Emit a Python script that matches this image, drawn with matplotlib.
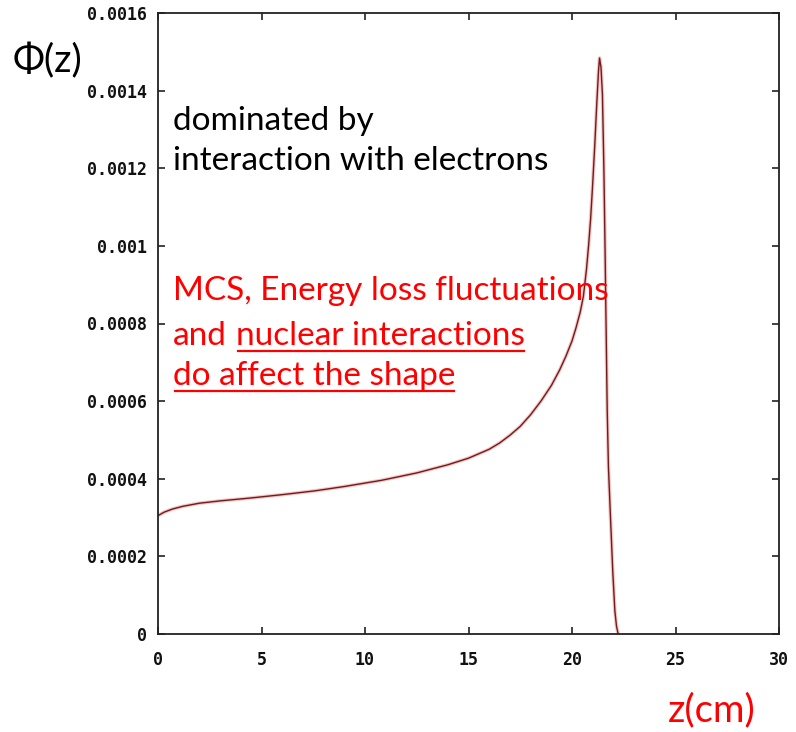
import matplotlib
matplotlib.use("Agg")
import matplotlib.pyplot as plt
from matplotlib.lines import Line2D

# Proton fluence-weighted depth profile Phi(z) along the beam axis
depth_cm = [0.0, 0.3, 0.7, 1.2, 2.0, 3.0, 4.4, 6.0, 7.6, 9.0, 10.8, 12.5,
            14.0, 15.0, 16.0, 16.5, 17.0, 17.5, 18.0, 18.5, 19.0, 19.4,
            19.7, 20.0, 20.2, 20.4, 20.55, 20.7, 20.8, 20.9, 21.0, 21.1,
            21.2, 21.28, 21.33, 21.40, 21.47, 21.54, 21.60, 21.65, 21.70,
            21.76, 21.86, 21.97, 22.07, 22.15, 22.23]
phi = [0.000305, 0.000314, 0.000322, 0.000329, 0.000337, 0.000343, 0.000350,
       0.000359, 0.000369, 0.000380, 0.000396, 0.000415, 0.000436, 0.000453,
       0.000476, 0.000492, 0.000512, 0.000535, 0.000565, 0.000600, 0.000640,
       0.000680, 0.000715, 0.000755, 0.000790, 0.000830, 0.000870, 0.000940,
       0.001000, 0.001070, 0.001160, 0.001260, 0.001370, 0.001450, 0.001484,
       0.001460, 0.001390, 0.001200, 0.000980, 0.000780, 0.000580, 0.000430,
       0.000300, 0.000160, 0.000060, 0.000020, 0.0]

x_ticks = [0, 5, 10, 15, 20, 25, 30]
x_tick_labels = ["0", "5", "10", "15", "20", "25", "30"]
y_ticks = [0, 0.0002, 0.0004, 0.0006, 0.0008, 0.001, 0.0012, 0.0014, 0.0016]
y_tick_labels = ["0", "0.0002", "0.0004", "0.0006", "0.0008", "0.001",
                 "0.0012", "0.0014", "0.0016"]

W, H = 796, 732
fig = plt.figure(figsize=(W / 100, H / 100), dpi=100)
fig.patch.set_facecolor("white")


def fx(px):
    return px / W


def fy(py):
    return 1 - py / H


ax = fig.add_axes([fx(158), fy(634), 621 / W, 621 / H])
ax.plot(depth_cm, phi, color="#f6c4c4", lw=2.6, solid_joinstyle="round")
ax.plot(depth_cm, phi, color="#6e1c1c", lw=1.0)
ax.set_xlim(0, 30)
ax.set_ylim(0, 0.0016)
ax.set_xticks(x_ticks, x_tick_labels)
ax.set_yticks(y_ticks, y_tick_labels)
ax.tick_params(direction="in", length=5, width=1.2, top=True, right=True,
               colors="#222222")
ax.tick_params(axis="x", pad=12)
ax.tick_params(axis="y", pad=8)
for lab in ax.get_xticklabels() + ax.get_yticklabels():
    lab.set_fontfamily("DejaVu Sans Mono")
    lab.set_fontweight("bold")
    lab.set_fontsize(12)
    lab.set_color("#111111")
for sp in ax.spines.values():
    sp.set_linewidth(1.3)
    sp.set_color("#222222")

body = ["Lato", "DejaVu Sans"]
fs_note = 24
fs_axis = 27.5

fig.text(fx(13), fy(72), "\u03a6(z)", family=body, fontsize=fs_axis,
         color="black", va="baseline", ha="left")
fig.text(fx(668), fy(721), "z(cm)", family=body, fontsize=fs_axis,
         color="red", va="baseline", ha="left")

fig.text(fx(173), fy(130), "dominated by", family=body, fontsize=fs_note,
         color="black", va="baseline")
fig.text(fx(173), fy(170), "interaction with electrons", family=body,
         fontsize=fs_note, color="black", va="baseline")

fig.text(fx(173), fy(300), "MCS, Energy loss fluctuations", family=body,
         fontsize=fs_note, color="red", va="baseline")
fig.text(fx(173), fy(345), "and", family=body, fontsize=fs_note,
         color="red", va="baseline")
t_nuc = fig.text(fx(236), fy(345), "nuclear interactions", family=body,
                 fontsize=fs_note, color="red", va="baseline")
t_shape = fig.text(fx(173), fy(385), "do affect the shape", family=body,
                   fontsize=fs_note, color="red", va="baseline")

# underline the two emphasised phrases
fig.canvas.draw()
renderer = fig.canvas.get_renderer()
for t, uy in ((t_nuc, 351), (t_shape, 391)):
    bb = t.get_window_extent(renderer)
    fig.add_artist(Line2D([fx(bb.x0 + 2), fx(bb.x1 - 1)], [fy(uy), fy(uy)],
                          transform=fig.transFigure, color="red", lw=1.6))

fig.savefig("out.png", dpi=100, facecolor="white")
